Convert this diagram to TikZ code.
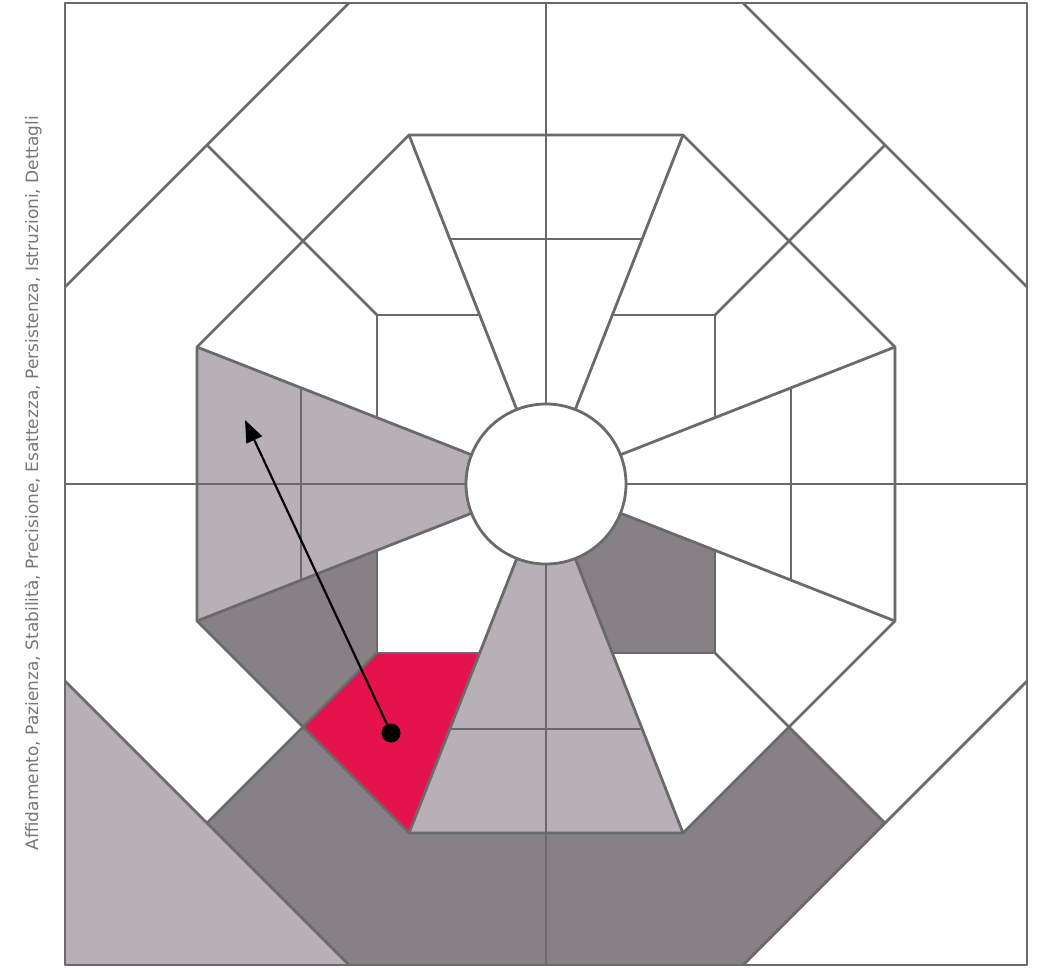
\documentclass[tikz,border=0pt]{standalone}
\usepackage{fontspec}
\setmainfont{DejaVu Sans}
\usetikzlibrary{arrows.meta,calc}
\definecolor{lightg}{HTML}{B8B0B6}
\definecolor{darkg}{HTML}{878085}
\definecolor{redc}{HTML}{E5134B}
\definecolor{linec}{HTML}{6A6A6A}
\definecolor{textc}{HTML}{777777}
\begin{document}
\begin{tikzpicture}[x=1pt,y=-1pt,
  edge/.style={draw=linec,line width=2.8pt,line join=round},
  lg/.style={fill=lightg},
  dg/.style={fill=darkg},
  rd/.style={fill=redc},
  pointer/.style={draw=black,line width=2.2pt,-{Triangle[length=22pt,width=17pt]}},
  dotnode/.style={circle,fill=black,inner sep=0pt,minimum size=19pt},
  hub/.style={circle,draw=linec,fill=white,line width=2.8pt,minimum size=160pt,inner sep=0pt},
  side/.style={text=textc,font=\fontsize{17}{20}\selectfont,rotate=90,inner sep=0pt}]
\useasboundingbox (0,0) rectangle (1046,968);
\node[side] (label) at (33,483) {Affidamento, Pazienza, Stabilità, Precisione, Esattezza, Persistenza, Istruzioni, Dettagli};
\begin{scope}[shift={(546,484)}]
% outer octagon
\coordinate (O1) at (-197,-481); \coordinate (O2) at (197,-481);
\coordinate (O3) at (481,-197);  \coordinate (O4) at (481,197);
\coordinate (O5) at (197,481);   \coordinate (O6) at (-197,481);
\coordinate (O7) at (-481,197);  \coordinate (O8) at (-481,-197);
% mid octagon
\coordinate (M1) at (-137,-349); \coordinate (M2) at (137,-349);
\coordinate (M3) at (349,-137);  \coordinate (M4) at (349,137);
\coordinate (M5) at (137,349);   \coordinate (M6) at (-137,349);
\coordinate (M7) at (-349,137);  \coordinate (M8) at (-349,-137);
% diagonal mid-edge midpoints
\coordinate (D1) at (-243,-243); \coordinate (D2) at (243,-243);
\coordinate (D3) at (243,243);   \coordinate (D4) at (-243,243);
% outer diagonal midpoints
\coordinate (E1) at (-339,-339); \coordinate (E2) at (339,-339);
\coordinate (E3) at (339,339);   \coordinate (E4) at (-339,339);
% inner square corners
\coordinate (S1) at (-169,-169); \coordinate (S2) at (169,-169);
\coordinate (S3) at (169,169);   \coordinate (S4) at (-169,169);
% fills
\fill[lg] (O7) -- (-481,481) -- (O6) -- cycle;
\fill[lg] (0,0) -- (M8) -- (M7) -- cycle;
\fill[lg] (0,0) -- (M6) -- (M5) -- cycle;
\fill[dg] (M7) -- (-169,66.3) -- (S4) -- (D4) -- cycle;
\fill[dg] (D4) -- (M6) -- (0,349) -- (0,481) -- (O6) -- (E4) -- cycle;
\fill[dg] (0,349) -- (M5) -- (D3) -- (E3) -- (O5) -- (0,481) -- cycle;
\fill[dg] (0,0) -- (169,66.3) -- (S3) -- (66.3,169) -- cycle;
\fill[rd] (S4) -- (-66.3,169) -- (M6) -- (D4) -- cycle;
% lines
\draw[edge] (-481,-481) rectangle (481,481);
\draw[edge] (O1) -- (O8) (O2) -- (O3) (O4) -- (O5) (O6) -- (O7);
\draw[edge] (M1) -- (M2) -- (M3) -- (M4) -- (M5) -- (M6) -- (M7) -- (M8) -- cycle;
\draw[edge] (0,-481) -- (0,481) (-481,0) -- (481,0);
\foreach \i in {1,...,8} {\draw[edge] (0,0) -- (M\i);}
\draw[edge] (S1) -- (E1) (S2) -- (E2) (S3) -- (E3) (S4) -- (E4);
\draw[edge] (-66.3,-169) -- (S1) -- (-169,-66.3);
\draw[edge] (66.3,-169) -- (S2) -- (169,-66.3);
\draw[edge] (169,66.3) -- (S3) -- (66.3,169);
\draw[edge] (-66.3,169) -- (S4) -- (-169,66.3);
\draw[edge] (-96.2,-245) -- (96.2,-245) (245,-96.2) -- (245,96.2)
            (-96.2,245) -- (96.2,245) (-245,-96.2) -- (-245,96.2);
\node[hub] (hub) at (0,0) {};
% arrow
\node[dotnode] (dot) at (-155,249) {};
\coordinate (tip) at (-301,-64);
\draw[pointer] (dot) -- (tip);
\end{scope}
\end{tikzpicture}
\end{document}
